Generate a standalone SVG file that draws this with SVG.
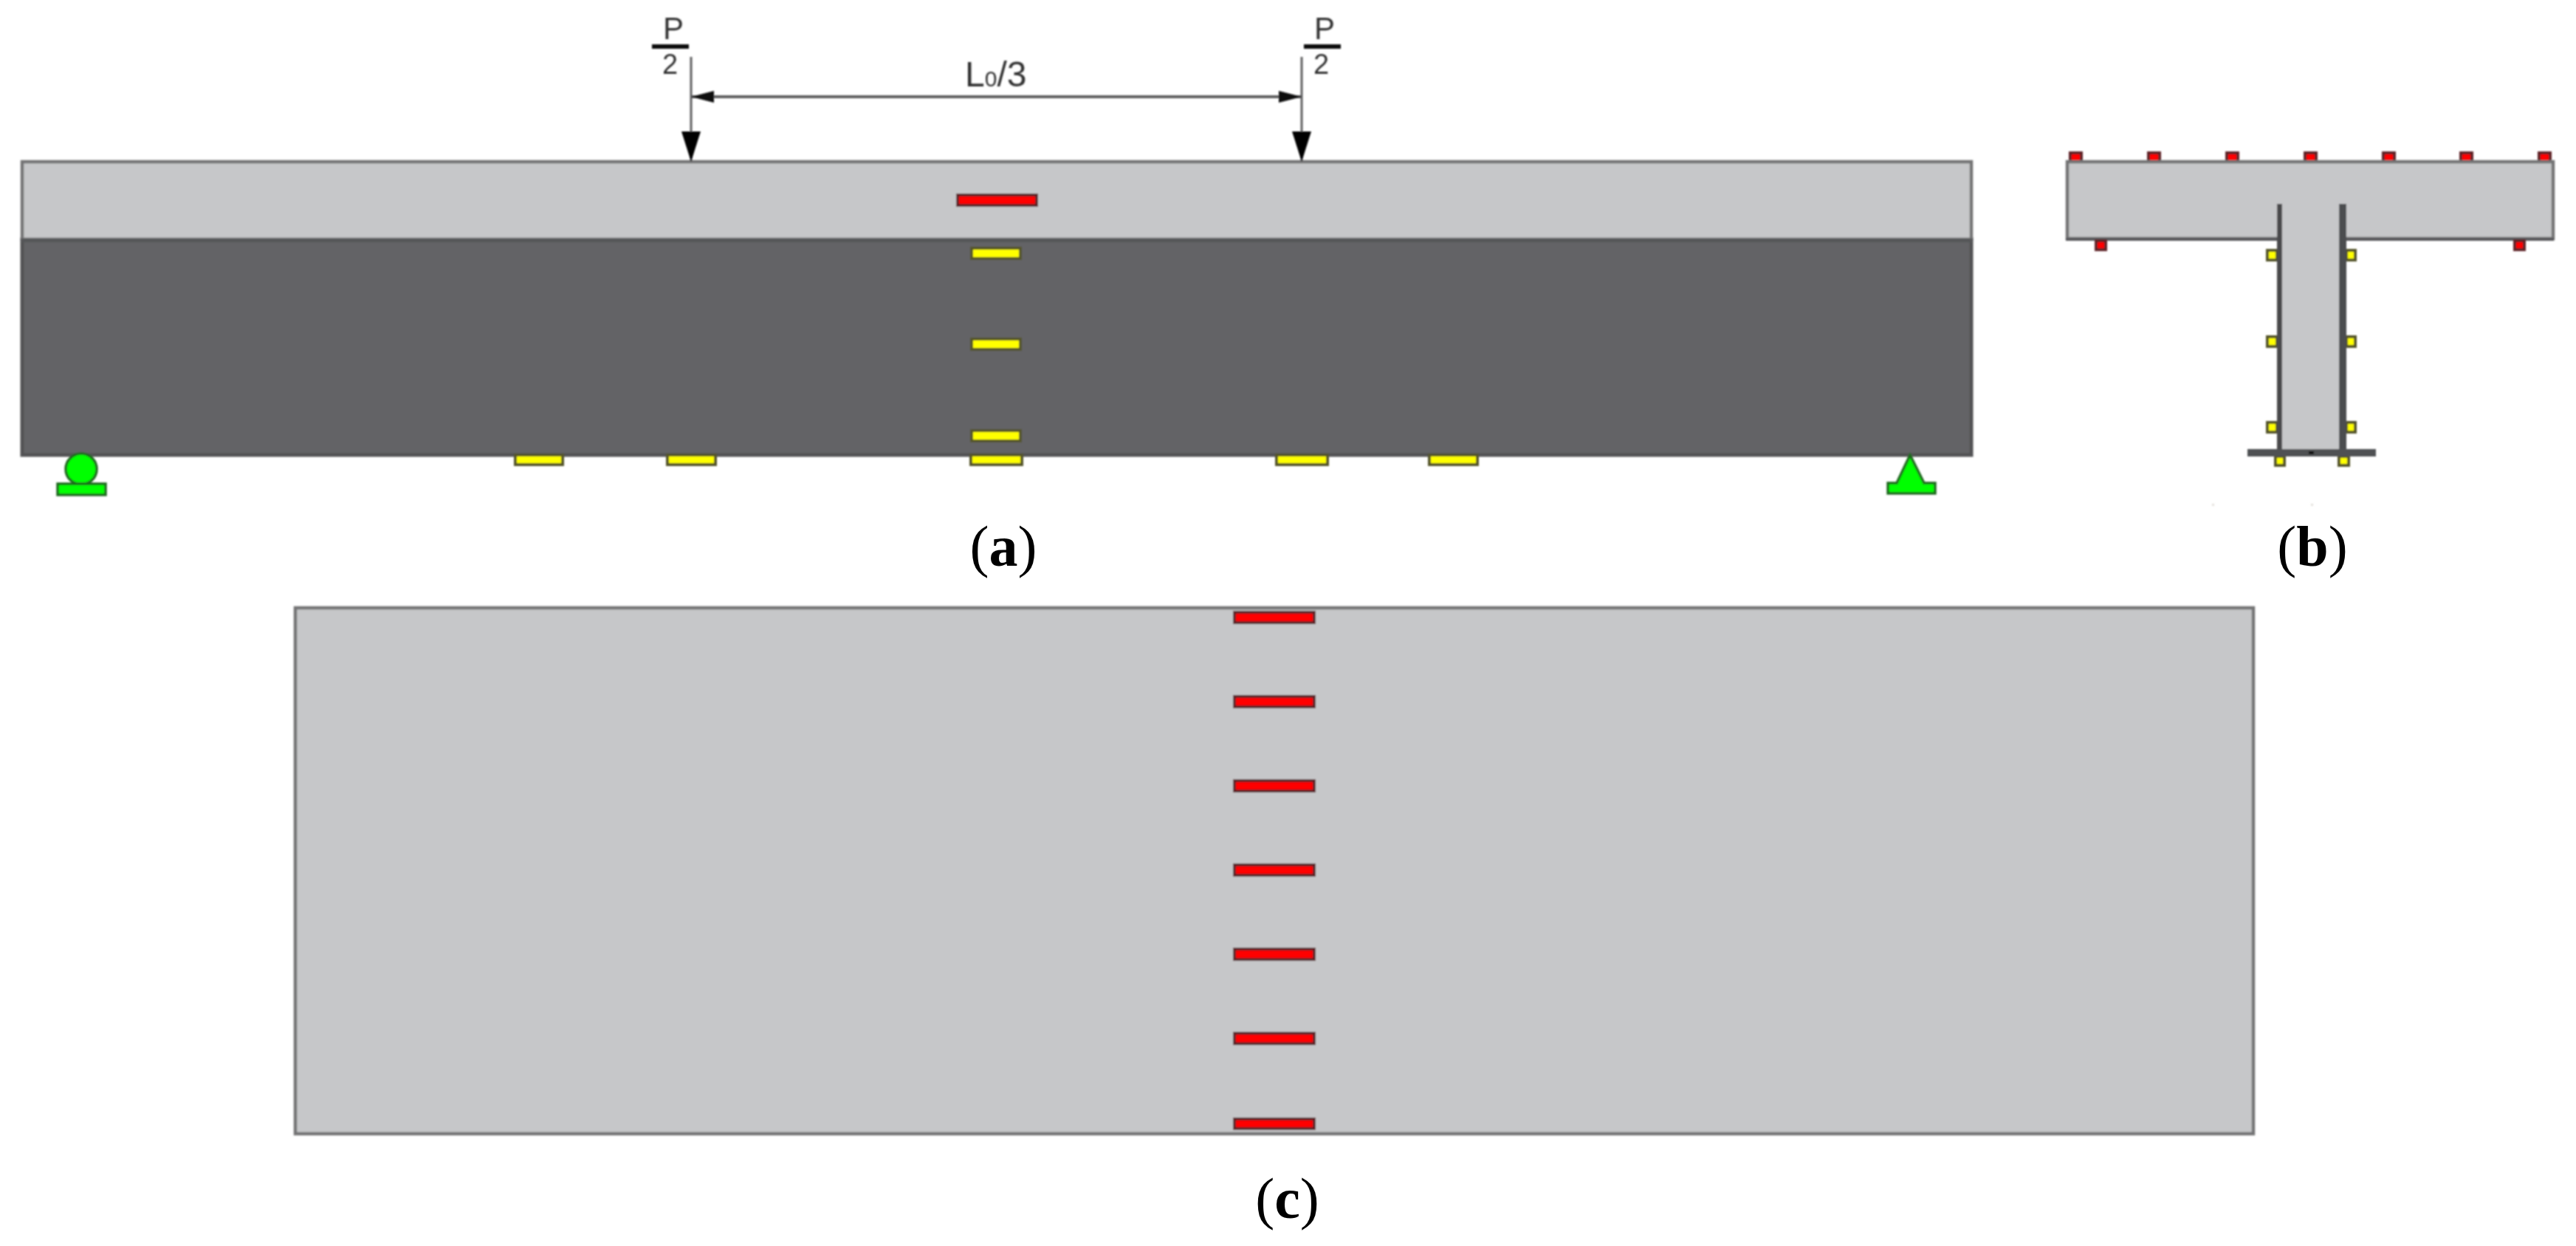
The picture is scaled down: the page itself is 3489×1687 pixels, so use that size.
<svg xmlns="http://www.w3.org/2000/svg" width="3489" height="1687" viewBox="0 0 3489 1687">
<style>
.t{font-family:"Liberation Sans",Arial,sans-serif;fill:#333}
.cap{font-family:"Liberation Serif","Times New Roman",serif;font-size:78px;fill:#000;text-anchor:middle}
.cap tspan{font-weight:bold}
.red{fill:#ff0000;stroke:#5e2426;stroke-width:4}
.yel{fill:#ffff00;stroke:#55552a;stroke-width:4}
.grn{fill:#00ff00;stroke:#1f6b1f;stroke-width:3.5}
.lt{fill:#c6c7c9;stroke:#747576;stroke-width:4.5}
.dk{fill:#636466;stroke:#525355;stroke-width:5}
.ln{stroke:#5e5f60;fill:none}
.fb{fill:#111}
</style>
<defs>
<filter id="soft" x="-2%" y="-5%" width="104%" height="110%"><feGaussianBlur stdDeviation="0.9"/></filter>
<marker id="down" markerUnits="userSpaceOnUse" markerWidth="42" markerHeight="28" refX="40" refY="14" orient="auto" viewBox="0 0 42 28"><path d="M0 1V27L41 14Z" fill="#000"/></marker>
<marker id="dimL" markerUnits="userSpaceOnUse" markerWidth="32" markerHeight="18" refX="1" refY="9" orient="auto" viewBox="0 0 32 18"><path d="M0 9L31 1V17Z" fill="#111"/></marker>
<marker id="dimR" markerUnits="userSpaceOnUse" markerWidth="32" markerHeight="18" refX="31" refY="9" orient="auto" viewBox="0 0 32 18"><path d="M32 9L1 1V17Z" fill="#111"/></marker>
</defs>
<rect width="3489" height="1687" fill="#fff"/>
<g filter="url(#soft)">
<g id="beam-elevation">
<rect class="dk" x="30" y="324" width="2640" height="292"/>
<rect class="lt" x="30" y="219" width="2640" height="105"/>
<rect x="28" y="323" width="2644" height="5" fill="#555658"/>
<rect class="red" x="1297" y="264" width="107" height="14"/>
<rect class="yel" x="1316" y="336" width="66" height="14"/>
<rect class="yel" x="1316" y="459" width="66" height="14"/>
<rect class="yel" x="1316" y="583" width="66" height="14"/>
</g>
<g id="soffit-plates">
<rect class="yel" x="698" y="616" width="64" height="13"/>
<rect class="yel" x="904" y="616" width="65" height="13"/>
<rect class="yel" x="1315" y="616" width="69" height="13"/>
<rect class="yel" x="1729" y="616" width="69" height="13"/>
<rect class="yel" x="1936" y="616" width="65" height="13"/>
</g>
<g id="support-roller">
<circle class="grn" cx="110" cy="635" r="21"/>
<rect class="grn" x="78" y="655" width="65" height="15"/>
</g>
<g id="support-pin">
<path class="grn" d="M2587 616L2569 654H2557V668H2621V654H2606Z"/>
</g>
<g id="connectors">
<path class="ln" stroke-width="3" d="M936 77V218" marker-end="url(#down)"/>
<path class="ln" stroke-width="3" d="M1763 77V218" marker-end="url(#down)"/>
<path class="ln" stroke-width="4" d="M937 131H1762" marker-start="url(#dimL)" marker-end="url(#dimR)"/>
</g>
<g id="load-left">
<text class="t" x="898" y="53" font-size="42">P</text>
<rect class="fb" x="883" y="60" width="50" height="6"/>
<text class="t" x="897" y="100" font-size="38">2</text>
</g>
<g id="load-right">
<text class="t" x="1780" y="53" font-size="42">P</text>
<rect class="fb" x="1766" y="60" width="50" height="6"/>
<text class="t" x="1779" y="100" font-size="38">2</text>
</g>
<g id="span-label">
<text class="t" x="1307" y="117" font-size="48">L<tspan font-size="30">0</tspan>/3</text>
</g>
<g id="cross-section">
<rect class="red" x="2804" y="207" width="15" height="12"/>
<rect class="red" x="2910" y="207" width="15" height="12"/>
<rect class="red" x="3016" y="207" width="15" height="12"/>
<rect class="red" x="3122" y="207" width="15" height="12"/>
<rect class="red" x="3228" y="207" width="15" height="12"/>
<rect class="red" x="3333" y="207" width="15" height="12"/>
<rect class="red" x="3439" y="207" width="15" height="12"/>
<rect class="lt" x="2800" y="219" width="658" height="104"/>
<rect x="2798" y="322" width="288" height="4" fill="#58595b"/>
<rect x="3176" y="322" width="283" height="4" fill="#58595b"/>
<rect x="3088" y="318" width="85" height="292" fill="#c6c7c9"/>
<rect class="red" x="2839" y="326" width="13" height="12"/>
<rect class="red" x="3406" y="326" width="13" height="12"/>
<rect class="yel" x="3071" y="339" width="13" height="13"/>
<rect class="yel" x="3071" y="456" width="13" height="13"/>
<rect class="yel" x="3071" y="572" width="13" height="13"/>
<rect class="yel" x="3178" y="339" width="12" height="13"/>
<rect class="yel" x="3178" y="456" width="12" height="13"/>
<rect class="yel" x="3178" y="572" width="12" height="13"/>
<rect x="3084" y="276" width="7" height="334" fill="#48494b"/>
<rect x="3168" y="276" width="10" height="334" fill="#4c4d4f"/>
<rect class="yel" x="3082" y="618" width="12" height="12"/>
<rect class="yel" x="3168" y="618" width="13" height="12"/>
<rect x="3044" y="608" width="174" height="10" fill="#505153"/>
<rect x="3127" y="611" width="7" height="4" fill="#000"/>
<rect x="2996" y="682" width="3" height="3" fill="#e4e2dc"/>
<rect x="3130" y="682" width="3" height="3" fill="#e4e2dc"/>
</g>
<g id="plan-view">
<rect class="lt" x="400" y="823" width="2652" height="712"/>
<rect class="red" x="1672" y="829" width="108" height="14"/>
<rect class="red" x="1672" y="943" width="108" height="14"/>
<rect class="red" x="1672" y="1057" width="108" height="14"/>
<rect class="red" x="1672" y="1171" width="108" height="14"/>
<rect class="red" x="1672" y="1285" width="108" height="14"/>
<rect class="red" x="1672" y="1399" width="108" height="14"/>
<rect class="red" x="1672" y="1515" width="108" height="13"/>
</g>
</g>
<g id="captions">
<text class="cap" x="1359" y="766">(<tspan>a</tspan>)</text>
<text class="cap" x="3132" y="766">(<tspan>b</tspan>)</text>
<text class="cap" x="1743.5" y="1649">(<tspan>c</tspan>)</text>
</g>
</svg>
